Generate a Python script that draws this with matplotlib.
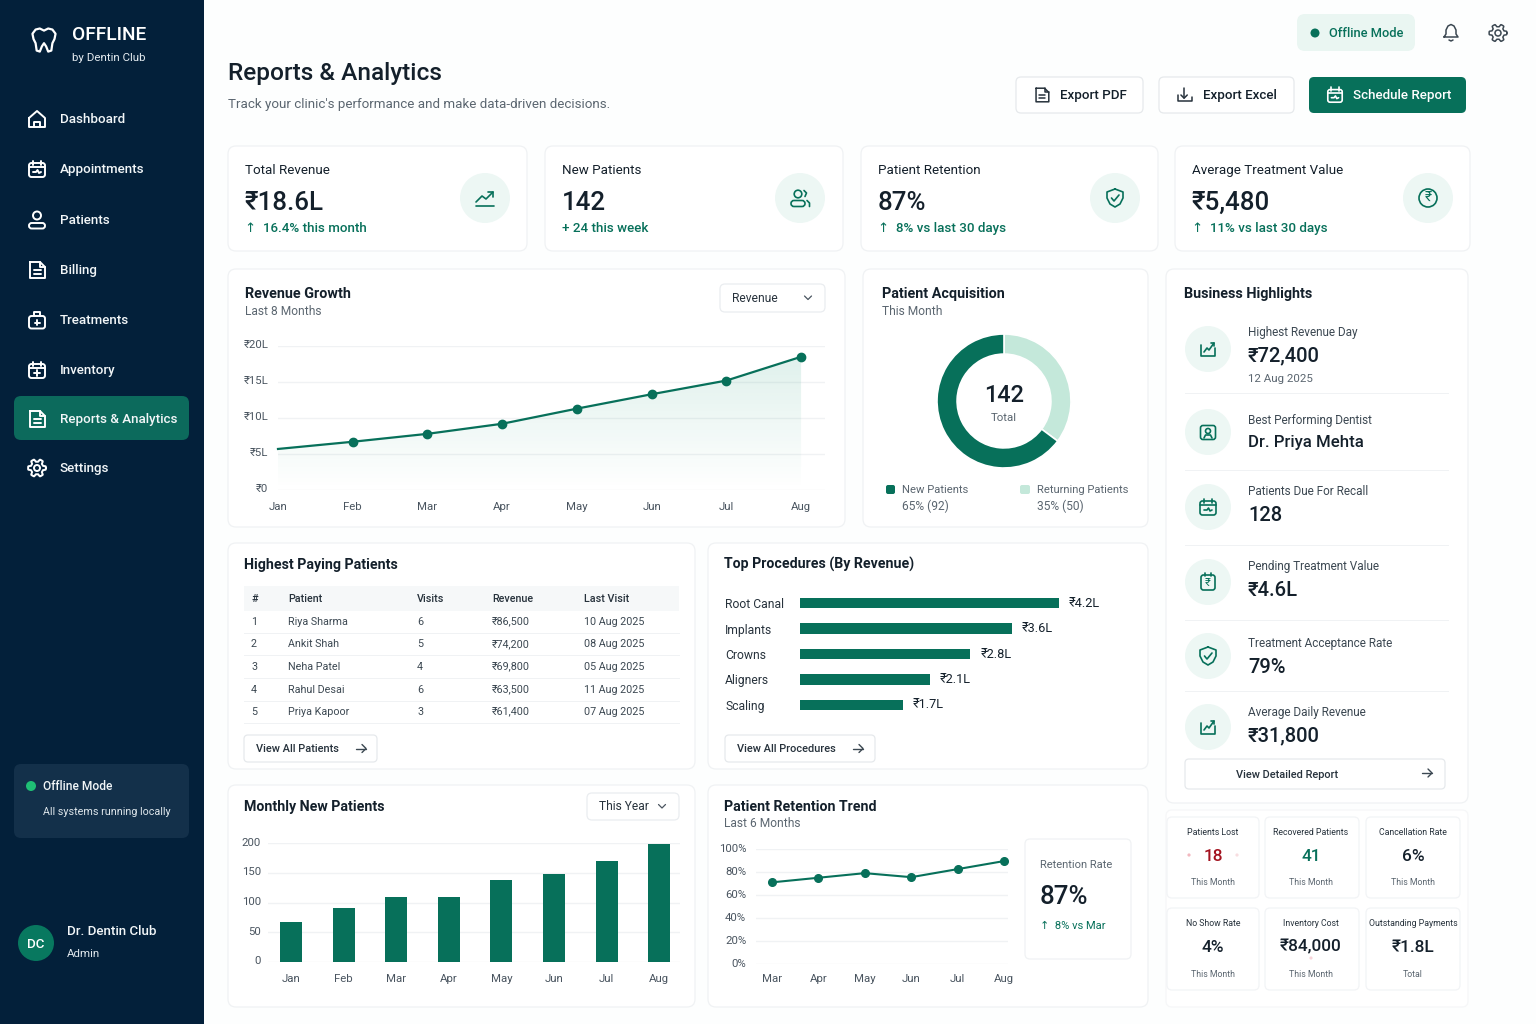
import numpy as np
import matplotlib
matplotlib.use('Agg')
import matplotlib.pyplot as plt
from matplotlib.patches import FancyBboxPatch, Circle, Polygon, Rectangle
from matplotlib.colors import to_rgb
from matplotlib.transforms import ScaledTranslation

plt.rcParams['font.family'] = ['Roboto', 'DejaVu Sans']

W, H = 1536, 1024
GREEN = '#07705a'
NAVY = '#03203a'
INK = '#14202b'
GRAY = '#5b6670'
EDGE = '#f0f2f4'
MINT = '#edf7f4'

# ---- data ----
nav_items = ['Dashboard', 'Appointments', 'Patients', 'Billing', 'Treatments',
             'Inventory', 'Reports & Analytics', 'Settings']
nav_icons = ['house', 'calendar', 'person', 'doc', 'kit', 'box', 'doc', 'gear']

kpi_titles = ['Total Revenue', 'New Patients', 'Patient Retention', 'Average Treatment Value']
kpi_values = ['₹18.6L', '142', '87%', '₹5,480']
kpi_notes = ['↑  16.4% this month', '+ 24 this week', '↑  8% vs last 30 days', '↑  11% vs last 30 days']
kpi_icons = ['trend', 'users', 'shield', 'rupee']

rev_months = ['Jan', 'Feb', 'Mar', 'Apr', 'May', 'Jun', 'Jul', 'Aug']
rev_values = [5.7, 6.7, 7.8, 9.2, 11.3, 13.3, 15.2, 18.5]
rev_ticks = [0, 5, 10, 15, 20]
rev_ticklabels = ['₹0', '₹5L', '₹10L', '₹15L', '₹20L']

donut_labels = ['Returning Patients', 'New Patients']
donut_values = [50, 92]
donut_colors = ['#c4e8da', '#07705a']

table_head = ['#', 'Patient', 'Visits', 'Revenue', 'Last Visit']
table_rows = [
    ['1', 'Riya Sharma', '6', '₹86,500', '10 Aug 2025'],
    ['2', 'Ankit Shah', '5', '₹74,200', '08 Aug 2025'],
    ['3', 'Neha Patel', '4', '₹69,800', '05 Aug 2025'],
    ['4', 'Rahul Desai', '6', '₹63,500', '11 Aug 2025'],
    ['5', 'Priya Kapoor', '3', '₹61,400', '07 Aug 2025'],
]

proc_names = ['Root Canal', 'Implants', 'Crowns', 'Aligners', 'Scaling']
proc_values = [4.2, 3.44, 2.76, 2.11, 1.67]
proc_labels = ['₹4.2L', '₹3.6L', '₹2.8L', '₹2.1L', '₹1.7L']

new_pat_months = ['Jan', 'Feb', 'Mar', 'Apr', 'May', 'Jun', 'Jul', 'Aug']
new_pat_values = [67, 91, 110, 110, 138, 148, 170, 198]
new_pat_ticks = [0, 50, 100, 150, 200]

ret_months = ['Mar', 'Apr', 'May', 'Jun', 'Jul', 'Aug']
ret_values = [71, 75, 79, 75.5, 82.5, 89.5]
ret_ticks = [0, 20, 40, 60, 80, 100]
ret_ticklabels = ['0%', '20%', '40%', '60%', '80%', '100%']

hl_labels = ['Highest Revenue Day', 'Best Performing Dentist', 'Patients Due For Recall',
             'Pending Treatment Value', 'Treatment Acceptance Rate', 'Average Daily Revenue']
hl_values = ['₹72,400', 'Dr. Priya Mehta', '128', '₹4.6L', '79%', '₹31,800']
hl_icons = ['chartbox', 'userbox', 'calendar', 'rupeebox', 'shield', 'chartbox']

small_titles = ['Patients Lost', 'Recovered Patients', 'Cancellation Rate',
                'No Show Rate', 'Inventory Cost', 'Outstanding Payments']
small_values = ['18', '41', '6%', '4%', '₹84,000', '₹1.8L']
small_notes = ['This Month', 'This Month', 'This Month', 'This Month', 'This Month', 'Total']
small_colors = ['#a3121f', GREEN, INK, INK, INK, INK]

# ---- canvas in pixel coordinates ----
fig = plt.figure(figsize=(W / 100, H / 100), dpi=100, facecolor='#fdfefe')
bg = fig.add_axes([0, 0, 1, 1])
bg.set_xlim(0, W)
bg.set_ylim(H, 0)
bg.axis('off')


def T(x, y, s, px=14, color=INK, weight='normal', ha='left'):
    # y is the middle of the x-height, baseline keeps mixed fonts level
    bg.text(x, y + 0.32 * px, s, fontsize=px * 0.69, color=color, fontweight=weight, ha=ha, va='baseline')


def box(x0, y0, x1, y1, r=8, fc='white', ec=EDGE, lw=0.9):
    bg.add_patch(FancyBboxPatch((x0, y0), x1 - x0, y1 - y0, boxstyle=f'round,pad=0,rounding_size={r}',
                                fc=fc, ec=ec, lw=lw))


def inset(x0, y0, x1, y1):
    ax = fig.add_axes([x0 / W, 1 - y1 / H, (x1 - x0) / W, (y1 - y0) / H])
    ax.patch.set_alpha(0)
    for s in ax.spines.values():
        s.set_visible(False)
    return ax


def lift_ylabels(ax, px):
    # the reference y labels sit a little above their grid lines
    off = ScaledTranslation(0, px / 100, fig.dpi_scale_trans)
    for lab in ax.get_yticklabels():
        lab.set_transform(lab.get_transform() + off)


def icon(name, cx, cy, c='white', s=1.0, lw=1.5):
    def pl(pts, closed=False):
        p = np.array(pts, dtype=float) * s + [cx, cy]
        if closed:
            p = np.vstack([p, p[0]])
        bg.plot(p[:, 0], p[:, 1], color=c, lw=lw, solid_capstyle='round', solid_joinstyle='round')

    def rbox(x, y, w, h, r=2.5):
        bg.add_patch(FancyBboxPatch((cx + x * s, cy + y * s), w * s, h * s,
                                    boxstyle=f'round,pad=0,rounding_size={r * s}', fc='none', ec=c, lw=lw))

    def ring(x, y, r):
        bg.add_patch(Circle((cx + x * s, cy + y * s), r * s, fc='none', ec=c, lw=lw))

    if name == 'house':
        pl([(-8, -1), (0, -8), (8, -1), (8, 8), (-8, 8)], True)
        pl([(-3, 8), (-3, 3), (3, 3), (3, 8)])
    elif name == 'calendar':
        rbox(-8, -6, 16, 14)
        pl([(-4, -8.5), (-4, -4)])
        pl([(4, -8.5), (4, -4)])
        pl([(-8, -2), (8, -2)])
        pl([(-4, 3), (-1, 3), (0.5, 1), (2, 4), (4, 3)])
    elif name == 'person':
        ring(0, -4.5, 4)
        rbox(-8, 3, 16, 5.5, 2.7)
    elif name == 'doc':
        pl([(-7, -8), (3, -8), (8, -3), (8, 8), (-7, 8)], True)
        pl([(3, -8), (3, -3), (8, -3)])
        pl([(-3, 0), (4, 0)])
        pl([(-3, 4), (4, 4)])
    elif name == 'kit':
        rbox(-8, -4, 16, 12.5)
        pl([(-3, -4), (-3, -8), (3, -8), (3, -4)])
        pl([(0, 0), (0, 5)])
        pl([(-2.5, 2.5), (2.5, 2.5)])
    elif name == 'box':
        rbox(-8, -6, 16, 14)
        pl([(-4, -8.5), (-4, -4)])
        pl([(4, -8.5), (4, -4)])
        pl([(-8, -2), (8, -2)])
        pl([(0, 0), (0, 5.5)])
        pl([(-2.7, 2.7), (2.7, 2.7)])
    elif name == 'gear':
        ring(0, 0, 3)
        ang = np.linspace(0, 2 * np.pi, 145)
        rad = 7.6 + 1.3 * np.clip(2.5 * np.cos(6 * ang), -1, 1)
        pl(list(zip(rad * np.cos(ang), rad * np.sin(ang))))
    elif name == 'bell':
        pl([(-7, 5), (-5, 2), (-5, -2), (-3, -6), (0, -7.5), (3, -6), (5, -2), (5, 2), (7, 5)], True)
        pl([(-2, 8), (0, 9), (2, 8)])
    elif name == 'trend':
        pl([(-9, 4), (-3, -2), (1, 1), (8, -6)])
        pl([(3, -6), (8, -6), (8, -1)])
        pl([(-9, 8), (9, 8)])
    elif name == 'users':
        ring(-2, -4, 3.8)
        rbox(-9, 2.5, 14, 6, 3)
        pl([(4, -7.5), (6.5, -5), (5, -1.5)])
        pl([(7, 2.5), (9.5, 5), (9.5, 8.5)])
    elif name == 'shield':
        pl([(0, -9), (8, -6), (8, 0), (5, 6), (0, 9), (-5, 6), (-8, 0), (-8, -6)], True)
        pl([(-3.5, 0), (-1, 3), (4, -3)])
    elif name == 'rupee':
        ring(0, 0, 9)
        bg.text(cx, cy, '₹', fontsize=10 * s, color=c, ha='center', va='center')
    elif name == 'chartbox':
        pl([(-7, -4), (-7, 7), (7, 7), (7, -1)])
        pl([(-4, 3), (-1, -1), (1, 1), (6, -6)])
        pl([(3, -6), (6, -6), (6, -3)])
    elif name == 'userbox':
        rbox(-7.5, -6.5, 15, 14)
        ring(0, -1, 2.5)
        pl([(-4, 6), (-2.5, 3), (2.5, 3), (4, 6)])
    elif name == 'rupeebox':
        rbox(-7, -7, 14, 15)
        pl([(-3, -9), (-3, -6)])
        pl([(3, -9), (3, -6)])
        bg.text(cx, cy + 1 * s, '₹', fontsize=8 * s, color=c, ha='center', va='center')
    elif name == 'download':
        pl([(-8, 0), (-8, 7), (8, 7), (8, 2)])
        pl([(-1, -8), (-1, 3)])
        pl([(-4.5, 0), (-1, 3.5), (2.5, 0)])
    elif name == 'arrow':
        pl([(-5, 0), (5, 0)])
        pl([(1, -4), (5, 0), (1, 4)])
    elif name == 'chevron':
        pl([(-3.5, -2), (0, 1.5), (3.5, -2)])


def dropdown(x0, y0, x1, y1, label):
    box(x0, y0, x1, y1, r=5, ec='#eaedf0')
    T(x0 + 12, (y0 + y1) / 2, label, 12.5, '#27323c')
    icon('chevron', x1 - 17, (y0 + y1) / 2, '#4a5560', 1, 0.9)


# ---- sidebar ----
bg.add_patch(Rectangle((0, 0), 204, H, fc=NAVY, ec='none'))
tooth = [(-8, -9), (-4, -10), (0, -8), (4, -10), (8, -9), (11, -5), (10, 0), (8, 4), (7, 11), (4, 12),
         (2, 7), (0, 4), (-2, 7), (-4, 12), (-7, 11), (-8, 4), (-10, 0), (-11, -5)]
bg.add_patch(Polygon(np.array(tooth) * [1.05, 1.05] + [44, 39], closed=True, fc='none', ec='white', lw=1.6,
                     joinstyle='round'))
T(72, 34, 'OFFLINE', 20, 'white', 500)
T(72, 57, 'by Dentin Club', 12, '#e4ebf0')
nav_y = [119, 169, 220, 270, 320, 370, 419, 468]
box(14, 396, 189, 440, r=7, fc='#0c6a5c', ec='none')
for name, ic, y in zip(nav_items, nav_icons, nav_y):
    icon(ic, 37, y, 'white', 1.0, 1.4)
    T(60, y, name, 14, '#f2f6f8', 500)
box(14, 764, 189, 838, r=7, fc='#13304a', ec='none')
bg.add_patch(Circle((31, 786), 5, fc='#1fbf75', ec='none'))
T(43, 786, 'Offline Mode', 12.5, '#f2f6f8', 500)
T(43, 811, 'All systems running locally', 11.2, '#dfe7ec')
bg.add_patch(Circle((36, 943), 18, fc='#08785f', ec='none'))
T(36, 944, 'DC', 14, 'white', 500, 'center')
T(67, 931, 'Dr. Dentin Club', 14, '#f2f6f8', 500)
T(67, 953, 'Admin', 12, '#dfe7ec')

# ---- header ----
T(228, 72, 'Reports & Analytics', 25.5, INK, 500)
T(228, 104, "Track your clinic's performance and make data-driven decisions.", 14, GRAY)
box(1297, 14, 1415, 51, r=8, fc='#eaf6f2', ec='none')
bg.add_patch(Circle((1315, 33), 4.5, fc=GREEN, ec='none'))
T(1329, 33, 'Offline Mode', 13.5, GREEN, 500)
icon('bell', 1451, 32, '#3c4852', 1, 1.1)
icon('gear', 1498, 33, '#3c4852', 1, 1.1)

box(1016, 77, 1143, 113, r=5, ec='#e6e9ec')
icon('doc', 1042, 95, '#27323c', 0.85, 1.1)
T(1060, 95, 'Export PDF', 14, INK, 500)
box(1159, 77, 1294, 113, r=5, ec='#e6e9ec')
icon('download', 1185, 95, '#27323c', 0.9, 1.1)
T(1203, 95, 'Export Excel', 14, INK, 500)
box(1309, 77, 1466, 113, r=5, fc=GREEN, ec='none')
icon('calendar', 1335, 95, 'white', 0.9, 1.2)
T(1353, 95, 'Schedule Report', 14, 'white', 500)

# ---- KPI cards ----
kpi_x = [(228, 527, 485), (545, 843, 800), (861, 1158, 1115), (1175, 1470, 1428)]
for (x0, x1, ix), t, v, n, ic in zip(kpi_x, kpi_titles, kpi_values, kpi_notes, kpi_icons):
    box(x0, 146, x1, 251)
    T(x0 + 17, 170, t, 14, INK)
    T(x0 + 17, 201, v, 27, INK, 500)
    T(x0 + 17, 228, n, 14, GREEN, 500)
    bg.add_patch(Circle((ix, 198), 25, fc=MINT, ec='none'))
    icon(ic, ix, 198, GREEN, 1, 1.2)

# ---- revenue growth ----
box(228, 269, 845, 527)
T(245, 293, 'Revenue Growth', 15, INK, 600)
T(245, 311, 'Last 8 Months', 12.5, GRAY)
dropdown(720, 284, 825, 312, 'Revenue')
ax = inset(278, 346, 825, 490)
xs = np.arange(len(rev_months))
poly = ax.fill_between(xs, rev_values, 0, color='none')
grad = np.zeros((64, 2, 4))
grad[..., :3] = to_rgb('#1f9a78')
grad[..., 3] = np.linspace(0.14, 0.0, 64)[:, None]
im = ax.imshow(grad, extent=[0, 7, 0, 18.5], aspect='auto', zorder=1)
im.set_clip_path(poly.get_paths()[0], transform=ax.transData)
ax.plot(xs, rev_values, color=GREEN, lw=1.6, zorder=3, clip_on=False)
ax.plot(xs[1:], rev_values[1:], 'o', color=GREEN, ms=6, zorder=4, clip_on=False)
ax.set_xlim(0, 7.32)
ax.set_ylim(0, 20)
ax.set_xticks(xs, rev_months)
ax.set_yticks(rev_ticks, rev_ticklabels)
ax.grid(axis='y', color=EDGE, lw=1)
ax.set_axisbelow(True)
ax.tick_params(length=0, labelsize=8.2, labelcolor='#4a5560')
ax.tick_params(axis='x', pad=9)
ax.tick_params(axis='y', pad=7)
lift_ylabels(ax, 2)

# ---- patient acquisition ----
box(863, 269, 1148, 527)
T(882, 293, 'Patient Acquisition', 15, INK, 600)
T(882, 311, 'This Month', 12.5, GRAY)
ax = inset(937, 334, 1071, 468)
ax.pie(donut_values, colors=donut_colors, startangle=90, counterclock=False, radius=1,
       wedgeprops=dict(width=0.3, edgecolor='white', linewidth=1.2))
ax.set_xlim(-1.0, 1.0)
ax.set_ylim(-1.0, 1.0)
T(1004, 394, '142', 24.5, INK, 500, 'center')
T(1004, 417, 'Total', 12, GRAY, 'normal', 'center')
box(886, 485, 895, 494, r=2, fc=donut_colors[1], ec='none')
T(902, 489, donut_labels[1], 11.8, GRAY)
T(902, 506, '65% (92)', 12.5, GRAY)
box(1020, 485, 1030, 494, r=2, fc=donut_colors[0], ec='none')
T(1037, 489, donut_labels[0], 11.8, GRAY)
T(1037, 506, '35% (50)', 12.5, GRAY)

# ---- table ----
box(228, 543, 695, 769)
T(244, 564, 'Highest Paying Patients', 14.7, INK, 600)
bg.add_patch(Rectangle((244, 586), 435, 25, fc='#f6f8f9', ec='none'))
col_x = [251, 288, 417, 492, 584]
for x, h in zip(col_x, table_head):
    T(x, 598, h, 11.2, '#27323c', 500)
row_y = [621, 643.5, 666, 689, 711]
for y, row in zip(row_y, table_rows):
    for x, c in zip(col_x, row):
        T(x, y, c, 11.2, '#3c4852')
    bg.plot([244, 679], [y + 11.5, y + 11.5], color=EDGE, lw=0.7)
box(244, 735, 377, 762, r=4, ec='#e6e9ec')
T(256, 748.5, 'View All Patients', 11.5, '#27323c', 500)
icon('arrow', 361, 748.5, '#3c4852', 1, 1.0)

# ---- top procedures ----
box(708, 543, 1148, 769)
T(724, 564, 'Top Procedures (By Revenue)', 14.7, INK, 600)
ax = inset(800, 590, 1120, 718)
yy = np.arange(len(proc_names))
ax.barh(yy, proc_values, height=0.43, color=GREEN)
for i, (v, lab) in enumerate(zip(proc_values, proc_labels)):
    ax.annotate(lab, (v, i), xytext=(10, 0), textcoords='offset pixels', va='center',
                fontsize=9.2, color=INK)
ax.set_xlim(0, 5.19)
ax.set_ylim(4.51, -0.51)
ax.set_xticks([])
ax.set_yticks(yy, proc_names)
ax.tick_params(axis='y', length=0, labelsize=8.7, labelcolor='#27323c', pad=54)
for lab in ax.get_yticklabels():
    lab.set_ha('left')
box(725, 735, 875, 762, r=4, ec='#e6e9ec')
T(737, 748.5, 'View All Procedures', 11.5, '#27323c', 500)
icon('arrow', 858, 748.5, '#3c4852', 1, 1.0)

# ---- monthly new patients ----
box(228, 785, 695, 1007)
T(244, 806, 'Monthly New Patients', 14.7, INK, 600)
dropdown(587, 793, 679, 820, 'This Year')
ax = inset(268, 843, 680, 962)
xb = np.arange(len(new_pat_months))
ax.bar(xb, new_pat_values, width=0.42, color=GREEN, zorder=3)
ax.set_xlim(-0.437, 7.395)
ax.set_ylim(0, 200)
ax.set_xticks(xb, new_pat_months)
ax.set_yticks(new_pat_ticks)
ax.grid(axis='y', color=EDGE, lw=1)
ax.set_axisbelow(True)
ax.tick_params(length=0, labelsize=8.2, labelcolor='#4a5560')
ax.tick_params(axis='x', pad=8.5)
ax.tick_params(axis='y', pad=5)
lift_ylabels(ax, 1.5)

# ---- retention trend ----
box(708, 785, 1148, 1007)
T(724, 806, 'Patient Retention Trend', 14.7, INK, 600)
T(724, 823, 'Last 6 Months', 12.5, GRAY)
ax = inset(756, 849, 1008, 964)
xr = np.arange(len(ret_months))
ax.plot(xr, ret_values, color=GREEN, lw=1.5, marker='o', ms=5.5, clip_on=False, zorder=3)
ax.set_xlim(-0.345, 5.086)
ax.set_ylim(0, 100)
ax.set_xticks(xr, ret_months)
ax.set_yticks(ret_ticks, ret_ticklabels)
ax.grid(axis='y', color=EDGE, lw=1)
ax.set_axisbelow(True)
ax.tick_params(length=0, labelsize=8.2, labelcolor='#4a5560')
ax.tick_params(axis='x', pad=7)
ax.tick_params(axis='y', pad=7)
lift_ylabels(ax, 1)
box(1025, 839, 1131, 959, r=5)
T(1040, 864, 'Retention Rate', 11.6, GRAY)
T(1040, 895, '87%', 27, INK, 500)
T(1040, 925, '↑  8% vs Mar', 11.6, GREEN)

# ---- business highlights ----
box(1166, 269, 1468, 803)
T(1184, 293, 'Business Highlights', 15, INK, 600)
icon_y = [349, 432, 507, 582, 656, 727]
label_y = [332, 420, 491, 566, 643, 712]
value_y = [355, 441, 514, 589, 666, 735]
sep_y = [393, 470, 545, 620, 691]
for iy, ly, vy, lab, val, ic in zip(icon_y, label_y, value_y, hl_labels, hl_values, hl_icons):
    bg.add_patch(Circle((1208, iy), 23, fc=MINT, ec='none'))
    icon(ic, 1208, iy, GREEN, 1, 1.2)
    T(1248, ly, lab, 12.3, '#3c4852')
    T(1248, vy, val, 21 if lab != hl_labels[1] else 17.5, INK, 500)
T(1248, 378, '12 Aug 2025', 12, GRAY)
for y in sep_y:
    bg.plot([1185, 1448], [y, y], color=EDGE, lw=0.7)
box(1185, 759, 1445, 789, r=4, ec='#e6e9ec')
T(1287, 774, 'View Detailed Report', 11.5, '#27323c', 500, 'center')
icon('arrow', 1427, 773, '#3c4852', 1, 1.0)

# ---- small stat cards ----
box(1166, 810, 1468, 1007, r=6, ec='#f6f7f8')
small_x = [(1167, 1259), (1265, 1359), (1366, 1460)] * 2
small_y = [(817, 898)] * 3 + [(908, 990)] * 3
for (x0, x1), (y0, y1), t, v, n, c in zip(small_x, small_y, small_titles, small_values, small_notes, small_colors):
    box(x0, y0, x1, y1, r=5, ec='#f2f4f6')
    xc = {1167: 1213, 1265: 1311, 1366: 1413}[x0]
    T(xc, y0 + 15, t, 9.2, '#27323c', 'normal', 'center')
    T(xc, y0 + 38, v, 18, c, 500, 'center')
    T(xc, y1 - 16, n, 9.2, GRAY, 'normal', 'center')
# faint specks next to the lost-patients value
for px, py, col in [(1189, 855, '#f2b8bf'), (1237, 855, '#f8dde0'), (1311, 958, '#f8d5da')]:
    bg.add_patch(Circle((px, py), 1.6, fc=col, ec='none'))

fig.savefig('out.png', dpi=100, facecolor=fig.get_facecolor())
